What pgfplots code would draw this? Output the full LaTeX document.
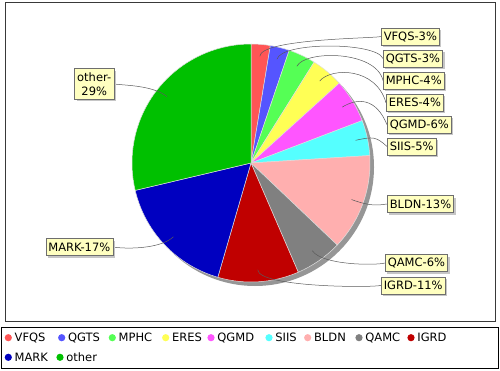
\documentclass[border=0pt]{standalone}
\usepackage{pgfplots}
\pgfplotsset{compat=1.18}
\usepackage{pgfplotstable}
\usepackage{fontspec}
\setmainfont{DejaVu Sans}
\usetikzlibrary{shadows}
\definecolor{cVFQS}{RGB}{255,85,85}
\definecolor{cQGTS}{RGB}{85,85,255}
\definecolor{cMPHC}{RGB}{85,255,85}
\definecolor{cERES}{RGB}{255,255,85}
\definecolor{cQGMD}{RGB}{255,85,255}
\definecolor{cSIIS}{RGB}{85,255,255}
\definecolor{cBLDN}{RGB}{255,175,175}
\definecolor{cQAMC}{RGB}{128,128,128}
\definecolor{cIGRD}{RGB}{192,0,0}
\definecolor{cMARK}{RGB}{0,0,192}
\definecolor{cother}{RGB}{0,192,0}
\definecolor{labfill}{RGB}{255,255,192}
\definecolor{labborder}{RGB}{110,110,110}
\definecolor{pieshadow}{RGB}{150,150,150}
\definecolor{linkcol}{RGB}{90,90,90}

% name pct colour labelx labely side break legendx legendy
\pgfplotstableread{
name  pct  col    lx   ly    side brk legx  legy
VFQS  2.6  cVFQS  381  333.5  1   0   8.3   32.3
QGTS  2.6  cQGTS  383  311.5  1   0   61.7  32.3
MPHC  3.7  cMPHC  383  289.5  1   0   112.3 32.3
ERES  4.4  cERES  386  267.2  1   0   165.7 32.3
QGMD  5.9  cQGMD  387  245.3  1   0   211   32.3
SIIS  4.8  cSIIS  387  223.5  1   0   269   32.3
BLDN  13.1 cBLDN  387  166    1   0   307.7 32.3
QAMC  6.4  cQAMC  385  107    1   0   359   32.3
IGRD  11.0 cIGRD  381  84.7   1   0   411   32.3
MARK  16.8 cMARK  113  123   -1   0   8.3   12.7
other 28.7 cother 114  286   -1   1   60    12.7
}\piedata

\begin{document}
\begin{tikzpicture}
\begin{axis}[
  scale only axis, width=500pt, height=370pt,
  xmin=0, xmax=500, ymin=0, ymax=370,
  hide axis, clip=false]
\pgfplotsextra{
  \path (axis cs:0,0) rectangle (axis cs:500,370);
  % plot area border
  \draw[gray!45!black, line width=0.8pt] (axis cs:5,49) rectangle (axis cs:495,368);
  % legend border
  \draw[black, line width=0.8pt] (axis cs:1.5,1.5) rectangle (axis cs:498.5,42.3);
  % pie shadow
  \fill[pieshadow] (axis cs:255,203) circle[radius=119pt];
  \def\cum{0}
  \pgfplotsforeachungrouped \i in {0,...,10}{%
    \pgfplotstablegetelem{\i}{pct}\of\piedata \let\pct\pgfplotsretval
    \pgfplotstablegetelem{\i}{col}\of\piedata \let\col\pgfplotsretval
    \pgfmathsetmacro\a{90-3.6*\cum}%
    \pgfmathsetmacro\b{90-3.6*(\cum+\pct)}%
    \filldraw[fill=\col, draw=white!75!gray, line width=0.5pt]
      (axis cs:251,207) -- ++(\a:119pt) arc[start angle=\a, end angle=\b, radius=119pt] -- cycle;
    \pgfmathsetmacro\cum{\cum+\pct}%
  }
  \def\cum{0}
  \pgfplotsforeachungrouped \i in {0,...,10}{%
    \pgfplotstablegetelem{\i}{name}\of\piedata \let\name\pgfplotsretval
    \pgfplotstablegetelem{\i}{pct}\of\piedata \let\pct\pgfplotsretval
    \pgfplotstablegetelem{\i}{col}\of\piedata \let\col\pgfplotsretval
    \pgfplotstablegetelem{\i}{lx}\of\piedata \let\lx\pgfplotsretval
    \pgfplotstablegetelem{\i}{ly}\of\piedata \let\ly\pgfplotsretval
    \pgfplotstablegetelem{\i}{side}\of\piedata \let\side\pgfplotsretval
    \pgfplotstablegetelem{\i}{brk}\of\piedata \let\brk\pgfplotsretval
    \pgfplotstablegetelem{\i}{legx}\of\piedata \let\legx\pgfplotsretval
    \pgfplotstablegetelem{\i}{legy}\of\piedata \let\legy\pgfplotsretval
    \pgfmathsetmacro\th{90-3.6*(\cum+\pct/2)}%
    \pgfmathsetmacro\lkx{251+107*cos(\th)}%
    \pgfmathsetmacro\lky{207+107*sin(\th)}%
    \pgfmathsetmacro\elx{251+125*cos(\th)}%
    \pgfmathsetmacro\ely{207+125*sin(\th)}%
    \pgfmathsetmacro\anx{251+125*\side}%
    \pgfmathtruncatemacro\r{round(\pct)}%
    \draw[linkcol, line width=0.5pt] (axis cs:\lx,\ly) .. controls (axis cs:\anx,\ely) and (axis cs:\elx,\ely) .. (axis cs:\lkx,\lky);
    \ifnum\side>0
      \node[fill=labfill, draw=labborder, line width=0.5pt, inner xsep=2.5pt, inner ysep=3pt,
        minimum height=17pt, font=\fontsize{11.5}{13.5}\selectfont, anchor=west,
        drop shadow={shadow xshift=2pt, shadow yshift=-2pt, fill=gray!45, opacity=1}]
        at (axis cs:\lx,\ly) {\name-\r\%};
    \else
      \ifnum\brk=1
        \node[fill=labfill, draw=labborder, line width=0.5pt, inner xsep=2.5pt, inner ysep=4pt,
          align=center, font=\fontsize{11.5}{14}\selectfont, anchor=east,
          drop shadow={shadow xshift=2pt, shadow yshift=-2pt, fill=gray!45, opacity=1}]
          at (axis cs:\lx,\ly) {\name-\\\r\%};
      \else
        \node[fill=labfill, draw=labborder, line width=0.5pt, inner xsep=2.5pt, inner ysep=3pt,
          minimum height=17pt, font=\fontsize{11.5}{13.5}\selectfont, anchor=east,
          drop shadow={shadow xshift=2pt, shadow yshift=-2pt, fill=gray!45, opacity=1}]
          at (axis cs:\lx,\ly) {\name-\r\%};
      \fi
    \fi
    % legend entry
    \fill[\col] (axis cs:\legx,\legy) circle[radius=3.6pt];
    \node[anchor=west, inner sep=0pt, text height=8.4pt, text depth=0pt,
      font=\fontsize{11.5}{13.5}\selectfont] at (axis cs:\legx+6.2,\legy) {\name};
    \pgfmathsetmacro\cum{\cum+\pct}%
  }
}
\end{axis}
\end{tikzpicture}
\end{document}
